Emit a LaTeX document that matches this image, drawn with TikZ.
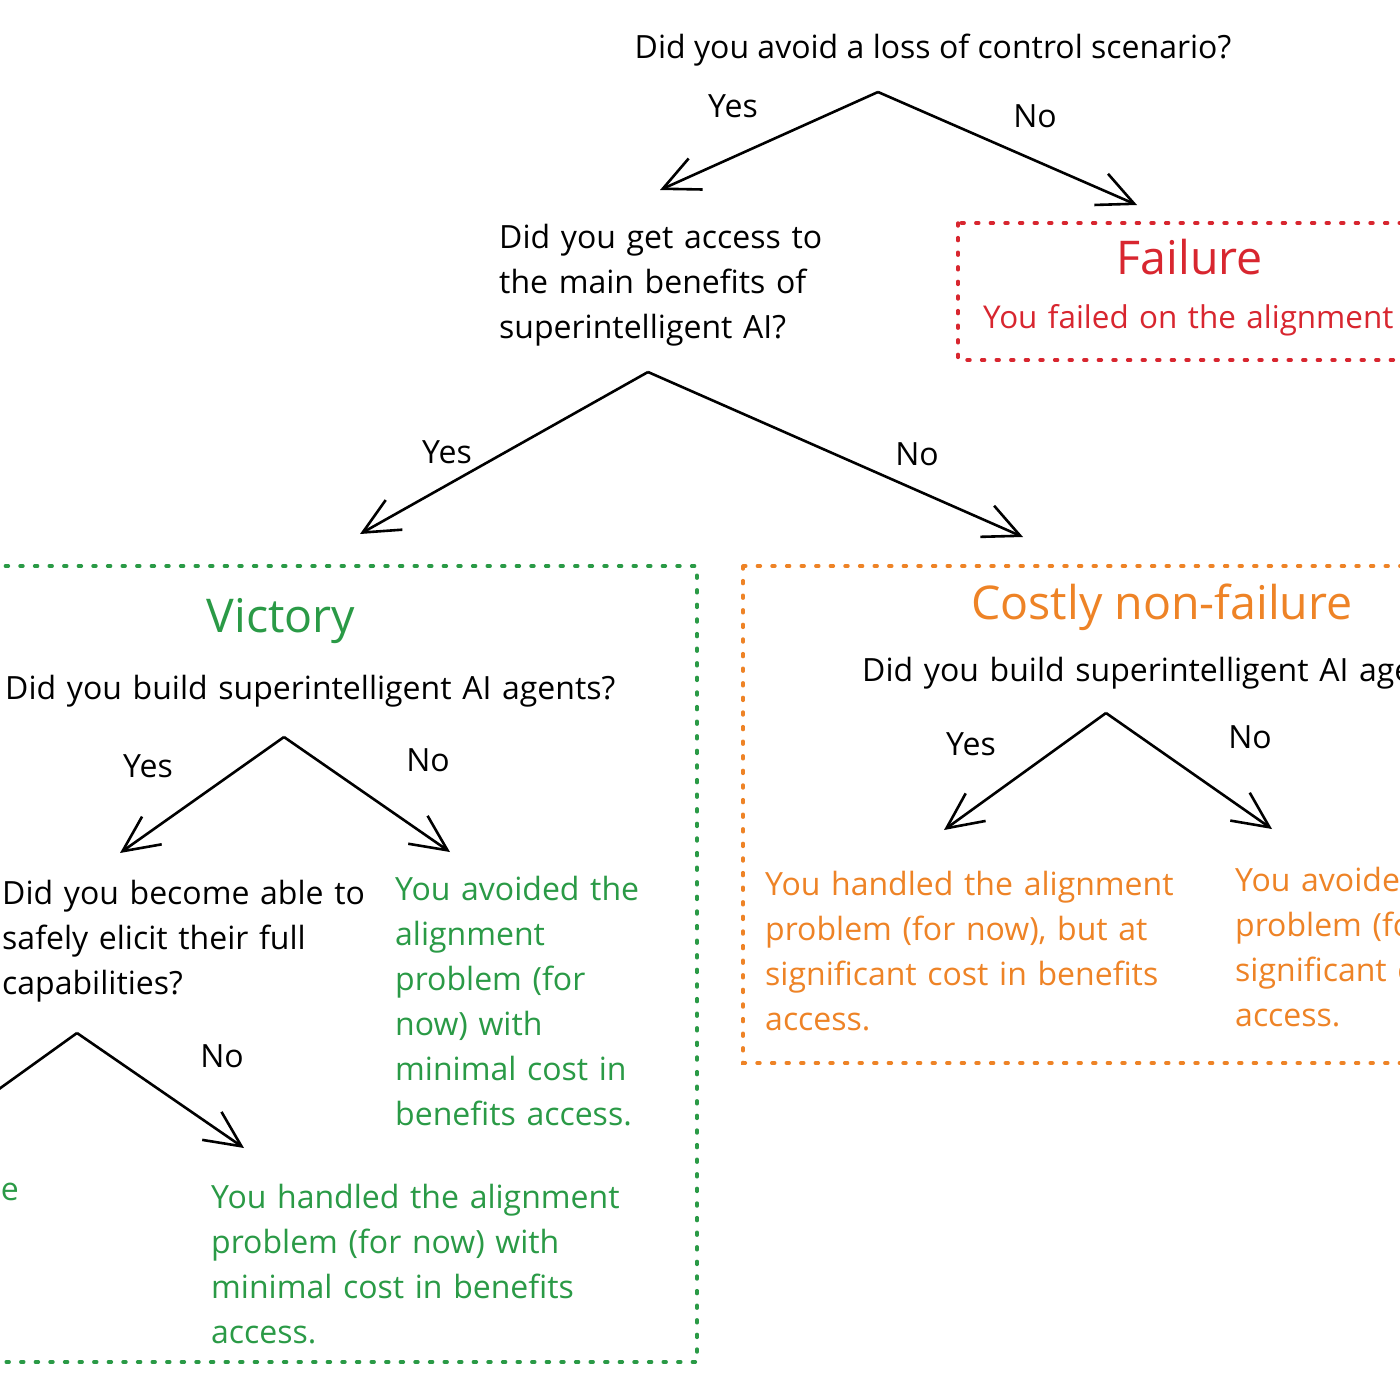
\documentclass[tikz,border=0pt]{standalone}
\usepackage{fontspec}
\setmainfont{Open Sans}
\usetikzlibrary{arrows.meta}
\definecolor{failred}{HTML}{D8262F}
\definecolor{wingreen}{HTML}{2A9A46}
\definecolor{costorange}{HTML}{EE8326}
\tikzset{
  x=1pt,y=-1pt,
  body/.style={font=\fontsize{32}{45}\selectfont, inner sep=0pt, anchor=base west, align=left},
  lbl/.style={font=\fontsize{32}{35}\selectfont, inner sep=0pt, anchor=base},
  title/.style={font=\fontsize{46.5}{50}\selectfont, inner sep=0pt, anchor=base},
  branch/.style={line width=2.6pt, -{Straight Barb[length=36pt,width=34pt,line width=2.6pt]}},
  dotbox/.style={line width=3.4pt, line cap=round, dash pattern=on 3pt off 11.6pt},
}
\begin{document}
\begin{tikzpicture}
\useasboundingbox (0,0) rectangle (1400,1400);
\fill[white] (0,0) rectangle (1400,1400);
\clip (0,0) rectangle (1400,1400);

% boxes
\draw[dotbox, failred] (958,223) rectangle (1430,360);
\draw[dotbox, wingreen] (-30,566) rectangle (697,1362);
\draw[dotbox, costorange] (743,566) rectangle (1430,1063);

% level 1
\node[lbl] (q1) at (933,58) {Did you avoid a loss of control scenario?};
\coordinate (a1) at (878,92);
\coordinate (t1y) at (660,190);
\coordinate (t1n) at (1137,205);
\draw[branch] (a1) -- (t1y);
\draw[branch] (a1) -- (t1n);
\node[lbl] (y1) at (733,117) {Yes};
\node[lbl] (n1) at (1035,127) {No};

% failure
\node[title, text=failred] (fail) at (1190,274) {Failure};
\node[body, text=failred, text width=600pt, font=\fontsize{31.4}{45}\selectfont] (failtxt) at (983,328) {You failed on the alignment};

% level 2
\node[body, text width=400pt] (q2) at (499,248) {Did you get access to\\the main benefits of\\superintelligent AI?};
\coordinate (a2) at (648,372);
\coordinate (t2y) at (360,534);
\coordinate (t2n) at (1023,537);
\draw[branch] (a2) -- (t2y);
\draw[branch] (a2) -- (t2n);
\node[lbl] (y2) at (447,463) {Yes};
\node[lbl] (n2) at (917,465) {No};

% victory
\node[title, text=wingreen] (vic) at (281,632) {Victory};
\node[body, text width=680pt] (q3) at (5,699) {Did you build superintelligent AI agents?};
\coordinate (a3) at (284,737);
\coordinate (t3y) at (120,853);
\coordinate (t3n) at (450,852);
\draw[branch] (a3) -- (t3y);
\draw[branch] (a3) -- (t3n);
\node[lbl] (y3) at (148,777) {Yes};
\node[lbl] (n3) at (428,771) {No};

\node[body, text width=380pt] (q4) at (2,904) {Did you become able to\\safely elicit their full\\capabilities?};
\node[body, text=wingreen, text width=300pt] (v1) at (395,900) {You avoided the\\alignment\\problem (for\\now) with\\minimal cost in\\benefits access.};

\coordinate (a4) at (77,1033);
\coordinate (t4y) at (-90,1153);
\coordinate (t4n) at (244,1148);
\draw[branch] (a4) -- (t4y);
\draw[branch] (a4) -- (t4n);
\node[lbl] (n4) at (222,1067) {No};
\node[body, text=wingreen, anchor=base east] (v0) at (19,1200) {e};
\node[body, text=wingreen, text width=480pt] (v2) at (211,1208) {You handled the alignment\\problem (for now) with\\minimal cost in benefits\\access.};

% costly
\node[title, text=costorange] (cost) at (1162,619) {Costly non-failure};
\node[body, text width=700pt] (q5) at (862,681) {Did you build superintelligent AI agents?};
\coordinate (a5) at (1106,713);
\coordinate (t5y) at (944,830);
\coordinate (t5n) at (1272,829);
\draw[branch] (a5) -- (t5y);
\draw[branch] (a5) -- (t5n);
\node[lbl] (y5) at (971,755) {Yes};
\node[lbl] (n5) at (1250,748) {No};
\node[body, text=costorange, text width=460pt] (c1) at (765,895) {You handled the alignment\\problem (for now), but at\\significant cost in benefits\\access.};
\node[body, text=costorange, text width=460pt] (c2) at (1235,891) {You avoided the alignment\\problem (for now), but at\\significant cost in benefits\\access.};
\end{tikzpicture}
\end{document}
